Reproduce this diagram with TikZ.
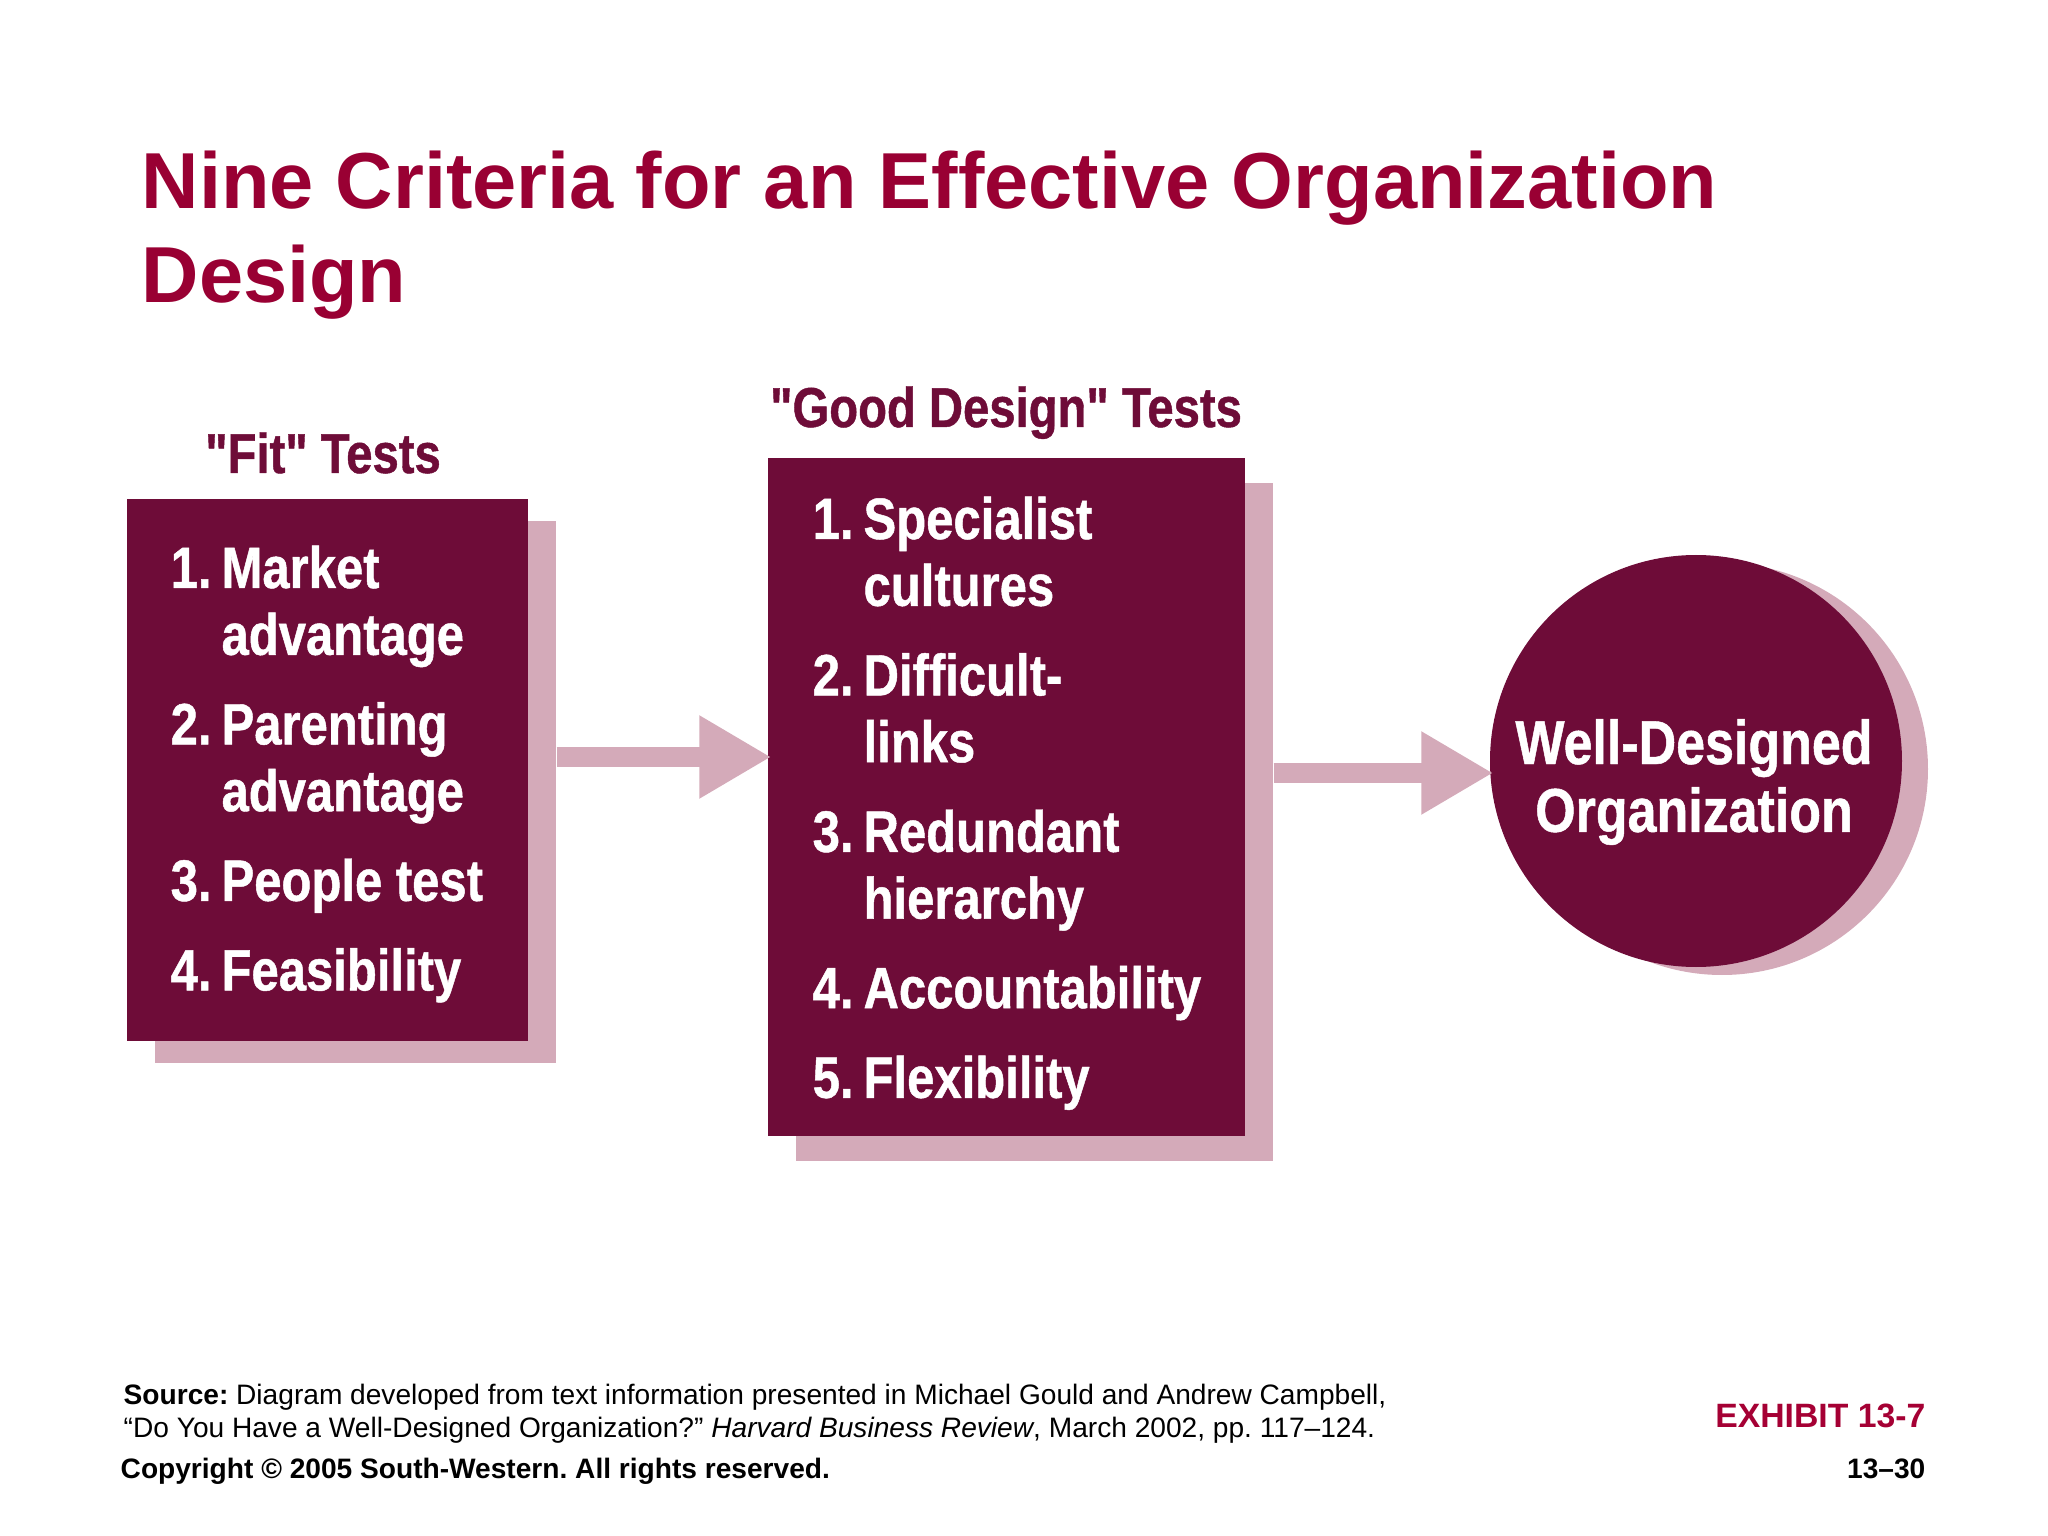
\documentclass[tikz,border=0pt]{standalone}
\usepackage{fontspec}
\setmainfont{Liberation Sans}
\newfontfamily\condfont[FakeStretch=0.84,FakeBold=0.8]{Liberation Sans}
\usetikzlibrary{arrows.meta}
\definecolor{wine}{RGB}{110,12,56}
\definecolor{rose}{RGB}{212,170,185}
\definecolor{crimson}{RGB}{153,0,51}
\definecolor{exred}{RGB}{165,0,52}
\frenchspacing

\begin{document}
\begin{tikzpicture}[>={Triangle[length=0.72cm,width=0.78cm]},
	panel/.style={rectangle,fill=wine,inner sep=0pt},
	backdrop/.style={rectangle,fill=rose,inner sep=0pt},
	listtext/.style={anchor=base west,text=white,inner sep=0pt,font=\condfont\bfseries\fontsize{16.6}{19}\selectfont},
	heading/.style={anchor=base,text=wine,inner sep=0pt,font=\condfont\bfseries\fontsize{16}{19}\selectfont}]
\def\gap{6.5pt}
\def\blockarrow#1#2{
	\draw[->,rose,line width=0.2cm,shorten >=-0.04cm] #1 -- #2;
}
\useasboundingbox (0,0) rectangle (20.48,-15.36);
% title
\node[anchor=base west,inner sep=0pt,text=crimson,font=\bfseries\fontsize{22.6}{26.7}\selectfont] (title) at (1.41,-2.09)
	{\begin{tabular}[t]{@{}l@{}}Nine Criteria for an Effective Organization\\Design\end{tabular}};
% fit tests
\node[heading] (h1) at (3.23,-4.73) {"Fit" Tests};
\node[backdrop,minimum width=4.01cm,minimum height=5.42cm] (sh1) at (3.555,-7.92) {};
\node[panel,minimum width=4.01cm,minimum height=5.42cm] (b1) at (3.275,-7.70) {};
\node[listtext] (t1) at (1.70,-5.88) {\begin{tabular}[t]{@{}l@{\hspace{0.1cm}}l@{}}
	1. & Market\\
	   & advantage\\[\gap]
	2. & Parenting\\
	   & advantage\\[\gap]
	3. & People test\\[\gap]
	4. & Feasibility
\end{tabular}};
% good design tests
\node[heading] (h2) at (10.06,-4.27) {"Good Design" Tests};
\node[backdrop,minimum width=4.77cm,minimum height=6.78cm] (sh2) at (10.345,-8.22) {};
\node[panel,minimum width=4.77cm,minimum height=6.78cm] (b2) at (10.065,-7.97) {};
\node[listtext] (t2) at (8.12,-5.39) {\begin{tabular}[t]{@{}l@{\hspace{0.1cm}}l@{}}
	1. & Specialist\\
	   & cultures\\[\gap]
	2. & Difficult-\\
	   & links\\[\gap]
	3. & Redundant\\
	   & hierarchy\\[\gap]
	4. & Accountability\\[\gap]
	5. & Flexibility
\end{tabular}};
% result
\node[circle,fill=rose,minimum size=4.12cm,inner sep=0pt] (shc) at (17.22,-7.69) {};
\node[circle,fill=wine,minimum size=4.12cm,inner sep=0pt] (circ) at (16.96,-7.61) {};
\node[anchor=base,inner sep=0pt,text=white,font=\condfont\bfseries\fontsize{17.6}{19.3}\selectfont] (org) at (16.94,-7.64)
	{\begin{tabular}[t]{@{}c@{}}Well-Designed\\Organization\end{tabular}};
\coordinate (a1) at (0,-7.57);
\coordinate (a2) at (0,-7.73);
\blockarrow{(sh1.east |- a1)}{(b2.west |- a1)}
\blockarrow{(sh2.east |- a2)}{(circ.west |- a2)}
% footer
\node[anchor=base west,inner sep=0pt,font=\fontsize{8}{9.4}\selectfont] (src) at (1.23,-14.04)
	{\begin{tabular}[t]{@{}l@{}}\textbf{Source:} Diagram developed from text information presented in Michael Gould and Andrew Campbell,\\
	“Do You Have a Well-Designed Organization?” \textit{Harvard Business Review}, March 2002, pp. 117–124.\end{tabular}};
\node[anchor=base west,inner sep=0pt,font=\bfseries\fontsize{8}{9.4}\selectfont] (copy) at (1.20,-14.78)
	{Copyright © 2005 South-Western. All rights reserved.};
\node[anchor=base east,inner sep=0pt,text=exred,font=\bfseries\fontsize{9.6}{11}\selectfont] (exh) at (19.26,-14.27) {EXHIBIT 13-7};
\node[anchor=base east,inner sep=0pt,font=\bfseries\fontsize{8}{9.4}\selectfont] (page) at (19.26,-14.78) {13–30};
\end{tikzpicture}
\end{document}
